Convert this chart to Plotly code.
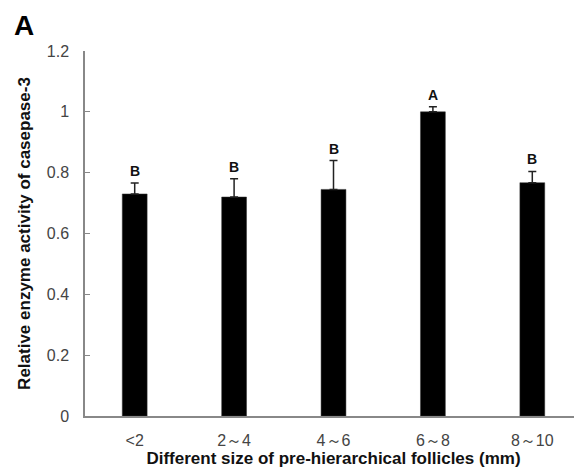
import plotly.graph_objects as go

categories = ["<2", "2～4", "4～6", "6～8", "8～10"]
values = [0.73, 0.72, 0.745, 1.0, 0.767]
errors = [0.036, 0.06, 0.095, 0.017, 0.037]
letters = ["B", "B", "B", "A", "B"]
y_ticks = [0, 0.2, 0.4, 0.6, 0.8, 1, 1.2]
y_tick_text = ["0", "0.2", "0.4", "0.6", "0.8", "1", "1.2"]

FONT = "Arial, Liberation Sans, sans-serif"

fig = go.Figure()
fig.add_trace(go.Bar(
    x=categories, y=values, width=0.25,
    marker=dict(color="black", line=dict(color="#333", width=0.5)),
    error_y=dict(type="data", array=errors, arrayminus=[0]*len(errors),
                 symmetric=False, color="#222", thickness=1.5, width=4),
    showlegend=False,
))

for c, v, e, l in zip(categories, values, errors, letters):
    fig.add_annotation(x=c, y=v + e, text=f"<b>{l}</b>", showarrow=False,
                       yanchor="bottom", yshift=2,
                       font=dict(family=FONT, size=14, color="#111"))

fig.add_annotation(x=0, y=1, xref="paper", yref="paper", xanchor="left",
                   yanchor="top", text="<b>A</b>", showarrow=False,
                   font=dict(family=FONT, size=28, color="black"),
                   xshift=-73, yshift=43)

fig.update_layout(
    width=582, height=475,
    margin=dict(l=77, r=8, t=43, b=67),
    paper_bgcolor="white", plot_bgcolor="white",
    font=dict(family=FONT, size=16, color="#444"),
)
fig.update_xaxes(
    showline=True, linecolor="#888", linewidth=1.5, ticks="",
    tickfont=dict(size=16, color="#444"), ticklabelstandoff=9,
    title=dict(text="<b>Different size of pre-hierarchical follicles (mm)</b>",
               font=dict(size=17, color="#111"), standoff=3),
)
fig.update_yaxes(
    range=[0, 1.2], tickvals=y_ticks, ticktext=y_tick_text,
    showline=True, linecolor="#888", linewidth=1.5,
    ticks="inside", ticklen=5, tickcolor="#888", showgrid=False, zeroline=False,
    tickfont=dict(size=16, color="#444"), ticklabelstandoff=11,
    title=dict(text="<b>Relative enzyme activity of casepase-3</b>",
               font=dict(size=17, color="#111"), standoff=12),
)

fig.write_html("out.html")
